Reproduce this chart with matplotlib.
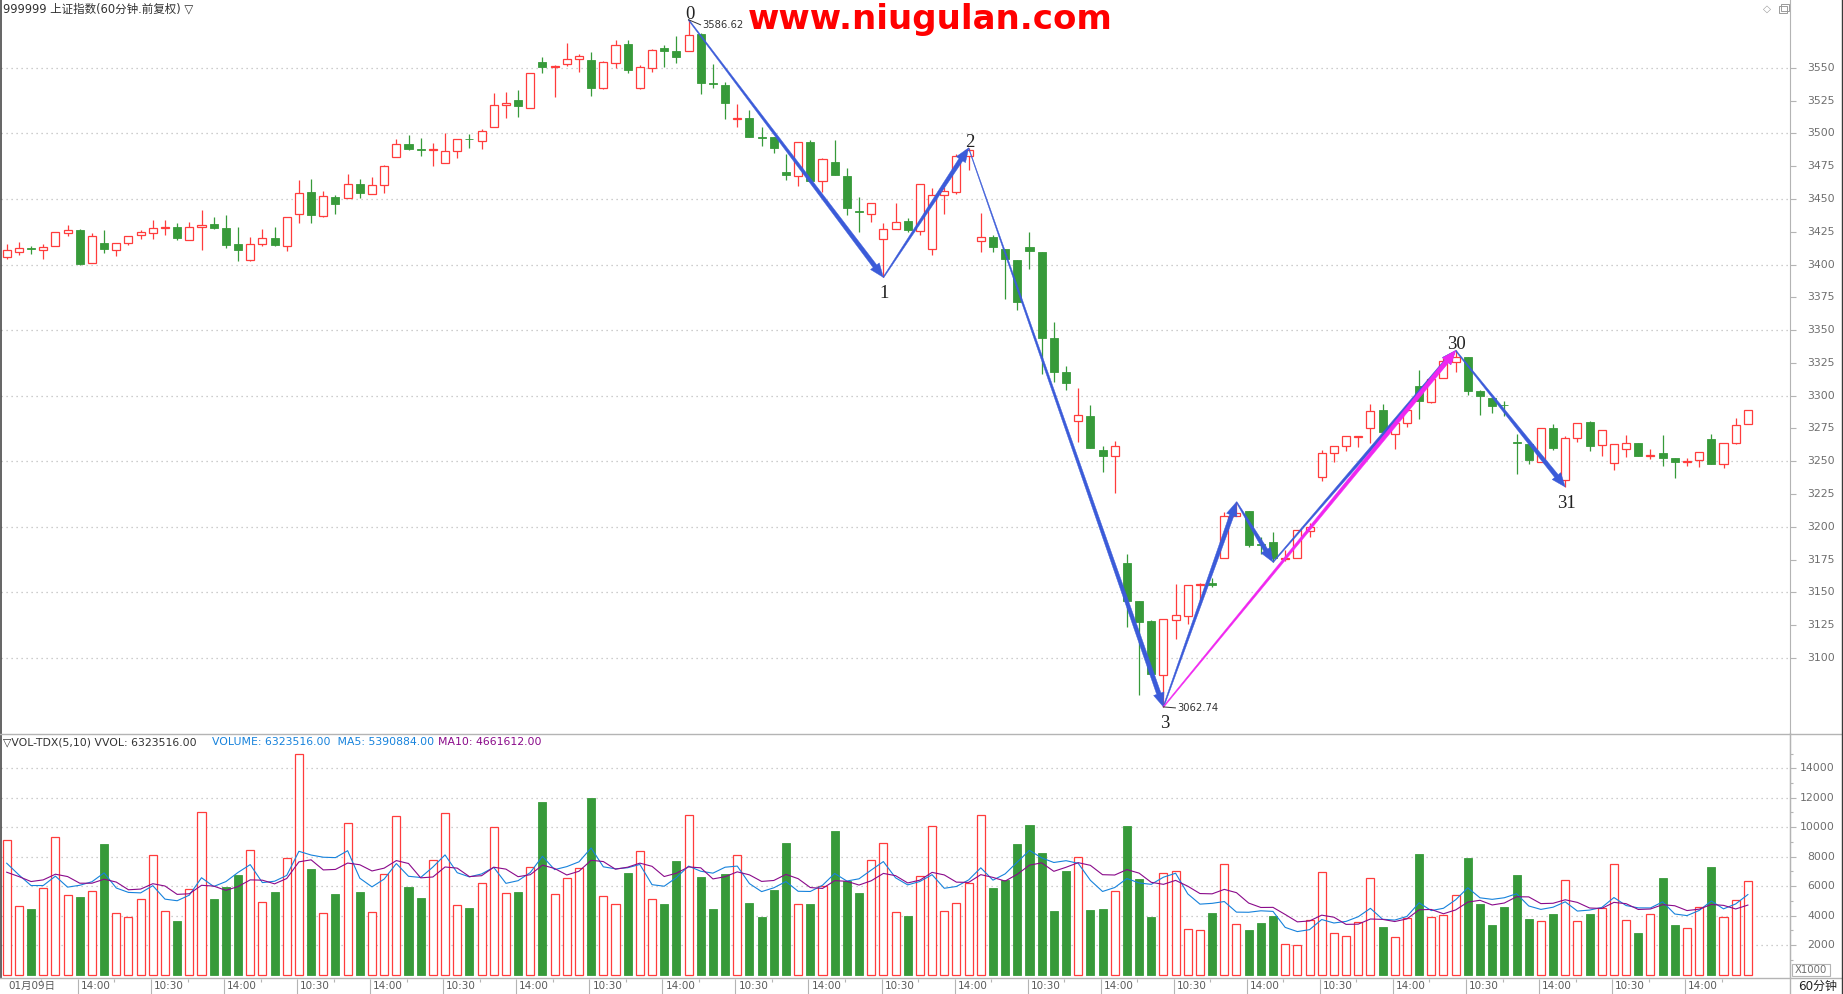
import numpy as np
import pandas as pd
import matplotlib
matplotlib.use('Agg')
import matplotlib.pyplot as plt
from matplotlib.patches import Polygon, Rectangle
from matplotlib.lines import Line2D

plt.rcParams['font.family'] = ['DejaVu Sans', 'Noto Sans CJK SC']

# ---- 60-minute bars of 999999 ----
opens = [3406.1, 3409.8, 3412.6, 3411.4, 3414.4, 3424.2, 3426.0, 3400.8, 3416.2, 3411.4, 3416.7, 3422.7,
         3424.0, 3427.8, 3429.0, 3418.9, 3428.8, 3430.6, 3427.5, 3415.4, 3403.8, 3415.9, 3420.5, 3414.4,
         3438.9, 3455.4, 3437.0, 3451.6, 3450.4, 3461.3, 3453.7, 3460.5, 3481.8, 3491.6, 3488.0, 3487.4,
         3477.2, 3486.3, 3496.0, 3493.9, 3504.6, 3522.0, 3525.3, 3519.7, 3554.2, 3550.8, 3553.2, 3557.0,
         3555.7, 3534.5, 3554.0, 3568.0, 3534.8, 3550.0, 3565.4, 3562.6, 3562.9, 3575.5, 3538.5, 3536.6,
         3511.2, 3511.6, 3497.2, 3497.4, 3470.6, 3467.8, 3493.4, 3463.8, 3478.2, 3467.8, 3440.5, 3438.7,
         3419.3, 3427.4, 3433.4, 3425.5, 3411.7, 3453.2, 3455.2, 3483.1, 3417.9, 3420.9, 3412.1, 3403.6,
         3413.0, 3409.8, 3344.0, 3318.3, 3280.7, 3284.8, 3258.5, 3253.8, 3172.3, 3143.4, 3128.2, 3087.0,
         3128.9, 3132.0, 3155.8, 3156.9, 3176.1, 3208.1, 3212.2, 3186.8, 3188.6, 3175.4, 3176.1, 3196.7,
         3237.7, 3256.0, 3262.0, 3268.2, 3275.6, 3288.8, 3271.1, 3278.9, 3307.6, 3295.4, 3313.5, 3325.9,
         3329.2, 3303.3, 3298.5, 3293.0, 3264.4, 3262.8, 3249.6, 3275.2, 3235.5, 3267.4, 3279.6, 3262.1,
         3248.5, 3259.1, 3263.9, 3254.3, 3256.3, 3252.5, 3249.7, 3250.8, 3266.9, 3247.7, 3263.9, 3278.8]
highs = [3415.4, 3416.9, 3413.9, 3415.4, 3425.0, 3429.8, 3426.8, 3423.7, 3426.0, 3416.7, 3422.0, 3426.3,
         3434.3, 3434.3, 3431.3, 3432.1, 3441.9, 3436.6, 3437.4, 3428.3, 3420.7, 3426.8, 3429.0, 3436.4,
         3464.2, 3465.3, 3456.2, 3453.2, 3469.1, 3465.3, 3466.8, 3475.9, 3495.7, 3498.7, 3496.5, 3492.7,
         3500.0, 3495.4, 3499.5, 3503.3, 3530.6, 3531.4, 3533.4, 3546.3, 3558.0, 3552.0, 3568.6, 3560.3,
         3561.8, 3555.0, 3571.0, 3571.0, 3552.0, 3564.0, 3567.2, 3574.0, 3586.62, 3576.5, 3552.8, 3539.1,
         3522.2, 3517.9, 3505.0, 3497.4, 3484.5, 3493.1, 3494.6, 3481.2, 3495.1, 3473.6, 3451.6, 3447.1,
         3431.4, 3446.6, 3435.5, 3461.7, 3458.5, 3458.8, 3484.5, 3488.9, 3439.5, 3422.6, 3412.1, 3403.6,
         3424.9, 3409.8, 3356.3, 3322.7, 3306.1, 3293.2, 3261.4, 3265.5, 3179.6, 3143.4, 3129.1, 3130.1,
         3156.1, 3155.6, 3156.9, 3161.2, 3211.4, 3219.0, 3212.2, 3192.4, 3195.9, 3182.0, 3197.5, 3202.8,
         3258.4, 3262.0, 3268.9, 3269.1, 3293.4, 3293.9, 3278.9, 3289.1, 3319.3, 3312.9, 3328.4, 3334.5,
         3329.2, 3304.1, 3298.5, 3295.9, 3270.6, 3262.8, 3275.7, 3278.1, 3269.5, 3279.5, 3280.7, 3274.2,
         3263.4, 3269.7, 3263.9, 3259.3, 3270.0, 3252.5, 3252.3, 3256.8, 3270.7, 3263.9, 3282.8, 3289.4]
lows = [3404.5, 3407.6, 3408.1, 3404.5, 3414.4, 3421.7, 3399.7, 3400.8, 3408.8, 3406.6, 3414.9, 3419.4,
        3419.4, 3422.5, 3418.7, 3418.9, 3411.1, 3426.8, 3412.6, 3402.8, 3402.8, 3414.1, 3413.9, 3410.4,
        3431.9, 3431.4, 3435.9, 3438.2, 3450.4, 3450.4, 3453.7, 3454.9, 3481.8, 3487.6, 3483.0, 3475.4,
        3477.2, 3481.5, 3489.1, 3488.4, 3504.6, 3511.9, 3512.7, 3519.7, 3546.1, 3527.8, 3551.4, 3546.8,
        3528.6, 3534.0, 3550.0, 3546.2, 3534.1, 3547.0, 3550.8, 3553.8, 3562.9, 3530.3, 3534.8, 3510.8,
        3505.2, 3497.2, 3490.1, 3485.0, 3464.5, 3459.7, 3463.5, 3455.2, 3468.1, 3437.7, 3424.8, 3432.4,
        3390.2, 3427.4, 3425.1, 3422.6, 3407.4, 3438.5, 3453.9, 3472.3, 3409.5, 3409.8, 3373.5, 3365.1,
        3396.9, 3316.6, 3310.2, 3304.0, 3264.9, 3259.9, 3242.1, 3226.0, 3123.8, 3071.9, 3087.6, 3062.74,
        3114.2, 3125.6, 3141.4, 3153.8, 3176.1, 3208.0, 3185.0, 3179.4, 3173.1, 3173.6, 3176.1, 3191.9,
        3235.2, 3249.7, 3258.1, 3261.2, 3263.7, 3272.3, 3259.6, 3276.4, 3282.5, 3294.7, 3313.5, 3318.3,
        3300.8, 3285.3, 3286.8, 3284.5, 3240.4, 3248.0, 3249.6, 3258.9, 3230.4, 3264.8, 3258.0, 3254.3,
        3243.2, 3253.5, 3254.3, 3251.5, 3246.7, 3237.6, 3246.7, 3246.0, 3248.2, 3244.7, 3263.4, 3278.8]
closes = [3410.9, 3412.4, 3412.2, 3413.6, 3425.0, 3426.0, 3400.5, 3422.0, 3411.9, 3416.7, 3422.0, 3425.0,
          3428.0, 3429.0, 3420.2, 3428.8, 3430.3, 3427.8, 3414.9, 3411.1, 3415.9, 3420.5, 3414.6, 3436.4,
          3454.8, 3437.5, 3452.2, 3445.8, 3461.3, 3454.2, 3460.5, 3474.9, 3491.6, 3488.4, 3487.4, 3488.2,
          3486.3, 3495.4, 3495.4, 3501.5, 3522.0, 3523.5, 3521.0, 3546.3, 3550.6, 3551.6, 3557.0, 3559.2,
          3534.7, 3554.3, 3567.7, 3548.5, 3550.3, 3563.9, 3562.6, 3558.3, 3575.3, 3538.6, 3538.0, 3523.5,
          3511.8, 3497.2, 3496.7, 3488.6, 3468.1, 3493.1, 3463.5, 3480.5, 3468.1, 3443.3, 3440.0, 3447.1,
          3427.4, 3432.7, 3426.4, 3461.7, 3453.2, 3456.2, 3483.1, 3487.4, 3420.9, 3413.3, 3403.9, 3371.2,
          3410.0, 3343.7, 3317.8, 3309.6, 3285.3, 3259.9, 3254.4, 3261.4, 3143.1, 3127.6, 3087.6, 3130.1,
          3132.5, 3155.6, 3156.8, 3155.6, 3208.1, 3210.9, 3186.5, 3186.3, 3176.1, 3176.0, 3197.5, 3200.0,
          3256.0, 3262.0, 3268.9, 3269.0, 3288.6, 3272.3, 3278.9, 3289.1, 3296.2, 3312.9, 3326.6, 3329.7,
          3303.8, 3299.7, 3292.1, 3292.6, 3264.0, 3251.1, 3275.7, 3260.2, 3267.4, 3279.5, 3261.8, 3274.2,
          3263.4, 3263.6, 3254.3, 3254.8, 3252.8, 3249.7, 3250.5, 3256.8, 3248.2, 3263.9, 3278.0, 3289.4]
# volume in units of 1000
volumes = [9116, 4637, 4456, 5859, 9319, 5384, 5270, 5655, 8867, 4185, 3891, 5112,
           8098, 4298, 3642, 5791, 11016, 5135, 5949, 6763, 8437, 4909, 5610, 7917,
           14950, 7171, 4162, 5474, 10269, 5610, 4230, 6809, 10745, 5949, 5203, 7759,
           10948, 4705, 4524, 6198, 9998, 5519, 5610, 7284, 11717, 5474, 6537, 7238,
           11989, 5316, 4795, 6899, 8369, 5112, 4795, 7713, 10812, 6628, 4456, 6809,
           8098, 4863, 3913, 5745, 8935, 4795, 4795, 6017, 9749, 6379, 5542, 7759,
           8912, 4230, 3981, 6696, 10066, 4298, 4841, 6198, 10812, 5881, 6424, 8867,
           10156, 8256, 4320, 7035, 7985, 4388, 4456, 5655, 10089, 6492, 3913, 6876,
           7012, 3076, 3008, 4185, 7487, 3416, 3031, 3506, 3981, 2058, 1991, 3687,
           6944, 2805, 2601, 3574, 6537, 3235, 2533, 3845, 8188, 3891, 4026, 5406,
           7917, 4795, 3370, 4569, 6763, 3777, 3619, 4117, 6401, 3619, 4117, 4501,
           7487, 3687, 2827, 4094, 6560, 3370, 3144, 4569, 7306, 3891, 5044, 6323.516]
# moving averages of the first bars (need data from before the window)
ma5_head = [7555, 6763, 6040, 6040]
ma10_head = [6944, 6650, 6311, 6424, 6809, 6650, 6198, 6198, 6469]

time_labels = ['01月09日', '14:00', '10:30']
zig_bars = [56, 72, 79, 95, 101, 104, 119, 128]
zig_top = [True, False, True, False, True, False, True, False]
zig_names = {56: '0', 72: '1', 79: '2', 95: '3', 119: '30', 128: '31'}
pink_leg = (95, 119)

RED = '#ff3c3c'
GREEN = '#379a3a'
BLUE = '#3b5bd9'
PINK = '#f026f0'
GRID = '#bdbdbd'
TXT = '#6e6e6e'

W, H = 1843, 994
fig = plt.figure(figsize=(W / 100, H / 100), dpi=100)
fig.patch.set_facecolor('white')

def fx(px):
    return px / W

def fy(py):
    return 1 - py / H

LEFT, RIGHT = 1, 1790
STEP, FIRST = 12.176, 6.7
xlim = ((LEFT - FIRST) / STEP, (RIGHT - FIRST) / STEP)

axp = fig.add_axes([fx(LEFT), fy(733), fx(RIGHT - LEFT), 733 / H])
axv = fig.add_axes([fx(LEFT), fy(977.7), fx(RIGHT - LEFT), (977.7 - 734) / H])
axt = fig.add_axes([fx(LEFT), 0, fx(RIGHT - LEFT), (H - 978.5) / H])

o, hi, lo, c = (np.array(a, dtype=float) for a in (opens, highs, lows, closes))
vol = np.array(volumes, dtype=float)
idx = np.arange(len(o))
up = c >= o
bw = 0.66

for ax in (axp, axv, axt):
    ax.set_xlim(*xlim)
    ax.set_facecolor('white')
    for s in ax.spines.values():
        s.set_visible(False)
    ax.set_xticks([])
    ax.set_yticks([])

axp.set_ylim(3042.84, 3601.69)
axv.set_ylim(-217, 16328)
axt.set_ylim(0, 1)

# grid
for v in range(3100, 3551, 50):
    axp.axhline(v, color=GRID, lw=0.9, ls=(0, (1, 3)), zorder=0)
for v in range(2000, 14001, 2000):
    axv.axhline(v, color=GRID, lw=0.9, ls=(0, (1, 3)), zorder=0)

# candles
bot = np.minimum(o, c)
top = np.maximum(o, c)
axp.vlines(idx[~up], lo[~up], hi[~up], color=GREEN, lw=0.9, zorder=2)
axp.vlines(idx[up], top[up], hi[up], color=RED, lw=0.9, zorder=2)
axp.vlines(idx[up], lo[up], bot[up], color=RED, lw=0.9, zorder=2)
body = np.maximum(top - bot, 0.5)
axp.bar(idx[up], body[up], bottom=bot[up], width=bw, facecolor='white',
        edgecolor=RED, lw=0.9, zorder=3)
axp.bar(idx[~up], body[~up], bottom=bot[~up], width=bw, facecolor=GREEN,
        edgecolor=GREEN, lw=0.6, zorder=3)

# volume
axv.bar(idx[up], vol[up], width=bw, facecolor='white', edgecolor=RED, lw=0.9, zorder=2)
axv.bar(idx[~up], vol[~up], width=bw, facecolor=GREEN, edgecolor=GREEN, lw=0.6, zorder=2)
ma5 = pd.Series(vol).rolling(5).mean().to_numpy()
ma10 = pd.Series(vol).rolling(10).mean().to_numpy()
ma5[:len(ma5_head)] = ma5_head
ma10[:len(ma10_head)] = ma10_head
axv.plot(idx, ma5, color='#1682dc', lw=0.8, zorder=4)
axv.plot(idx, ma10, color='#8a0a8a', lw=0.8, zorder=4)

# zigzag arrows
def arrow(p0, p1, color, w0=1.0, w1=4.5, hw=11.0, hl=14.0):
    a = axp.transData.transform(p0)
    b = axp.transData.transform(p1)
    d = b - a
    u = d / np.hypot(*d)
    n = np.array([-u[1], u[0]])
    s = b - u * hl
    pts = np.array([a + n * w0 / 2, s + n * w1 / 2, s + n * hw / 2, b,
                    s - n * hw / 2, s - n * w1 / 2, a - n * w0 / 2])
    axp.add_patch(Polygon(axp.transData.inverted().transform(pts), closed=True,
                          fc=color, ec=color, lw=0.3, zorder=6))

zpts = {k: (k, hi[k] if t else lo[k]) for k, t in zip(zig_bars, zig_top)}
for k0, k1 in zip(zig_bars[:-1], zig_bars[1:]):
    arrow(zpts[k0], zpts[k1], BLUE, w0=0.6 if k0 == 79 else 1.0)
arrow(zpts[pink_leg[0]], zpts[pink_leg[1]], PINK)

for k, t in zip(zig_bars, zig_top):
    if k not in zig_names:
        continue
    axp.annotate(zig_names[k], zpts[k], xytext=(1, -3 if t else -8),
                 textcoords='offset pixels', ha='center', va='bottom' if t else 'top',
                 family='Liberation Serif', fontsize=13.5, color='#222222', zorder=7)

# extreme price notes
for k, t in ((56, True), (95, False)):
    px, py = axp.transData.transform(zpts[k])
    dy = 5 if t else 1
    axp.plot(*axp.transData.inverted().transform([[px, py], [px + 12, py - dy]]).T,
             color='#333333', lw=0.7, zorder=7)
    axp.annotate(f'{zpts[k][1]:.2f}', zpts[k], xytext=(14, -dy),
                 textcoords='offset pixels', ha='left', va='center',
                 fontsize=7.2, color='#333333', zorder=7)

# price axis (right)
axp.spines['right'].set_visible(True)
axp.spines['right'].set_color('#b4b4b4')
axp.set_yticks(range(3100, 3551, 25))
axp.tick_params(axis='y', left=False, right=True, labelleft=False, labelright=False,
                length=4.3, width=0.8, color='#b4b4b4', direction='out')
xa = (1835 - LEFT) / (RIGHT - LEFT)
for v in range(3100, 3551, 25):
    axp.text(xa, v, str(v), transform=axp.get_yaxis_transform(), ha='right',
             va='center', fontsize=7.8, color=TXT, clip_on=False)

# volume axis (right)
axv.spines['right'].set_visible(True)
axv.spines['right'].set_color('#b4b4b4')
axv.set_yticks(range(2000, 14001, 2000))
axv.set_yticks(range(1000, 15001, 2000), minor=True)
axv.tick_params(axis='y', which='both', left=False, right=True, labelleft=False,
                labelright=False, width=0.8, color='#b4b4b4', direction='out')
axv.tick_params(axis='y', which='major', length=4.3)
axv.tick_params(axis='y', which='minor', length=2.2)
for v in range(2000, 14001, 2000):
    axv.text(xa, v, str(v), transform=axv.get_yaxis_transform(), ha='right',
             va='center', fontsize=7.8, color=TXT, clip_on=False)

# time axis
for k in range(0, len(idx), 6):
    j = k // 6
    if j > 0:
        axt.vlines(k - 0.15, 0, 1, color='#b4b4b4', lw=0.8)
    lab = time_labels[0] if j == 0 else time_labels[1 + (j + 1) % 2]
    axt.text(k + 0.1, 0.5, lab, ha='left', va='center', fontsize=7.5, color='#5a5a5a')
for k in range(3, len(idx), 6):
    axt.vlines(k - 0.15, 0.75, 1, color='#b4b4b4', lw=0.8)

# frame lines
fig.add_artist(Line2D([fx(0.6), fx(0.6)], [fy(0), fy(978)], color='#3a3a3a', lw=1.1))
fig.add_artist(Line2D([0, 1], [fy(733.5), fy(733.5)], color='#b4b4b4', lw=1.0))
fig.add_artist(Line2D([0, 1], [fy(978), fy(978)], color='#b4b4b4', lw=1.0))
fig.add_artist(Line2D([fx(1790), fx(1790)], [fy(733), 0], color='#b4b4b4', lw=1.0))
fig.add_artist(Line2D([fx(1842), fx(1842)], [0, 1], color='#3a3a3a', lw=1.0))

# texts
fig.text(fx(3), fy(9), '999999 上证指数(60分钟.前复权) ▽', ha='left', va='center',
         fontsize=8.3, color='#303030')
fig.text(fx(930), fy(19), 'www.niugulan.com', ha='center', va='center', fontsize=24.5,
         fontweight='bold', color='#ff0000')
fig.text(fx(1767), fy(9), '◇', ha='center', va='center', fontsize=7.5, color='#9a9a9a')
fig.add_artist(Rectangle((fx(1779), fy(13)), fx(8), 7 / H, fill=False, ec='#9a9a9a', lw=0.7))
fig.add_artist(Rectangle((fx(1781), fy(11)), fx(8), 7 / H, fill=False, ec='#9a9a9a', lw=0.7))

fig.text(fx(3), fy(742), '▽VOL-TDX(5,10) VVOL: 6323516.00', ha='left', va='center',
         fontsize=7.8, color='#333333')
fig.text(fx(212), fy(742), 'VOLUME: 6323516.00  MA5: 5390884.00', ha='left', va='center',
         fontsize=7.8, color='#1682dc')
fig.text(fx(438), fy(742), 'MA10: 4661612.00', ha='left', va='center',
         fontsize=7.8, color='#8a0a8a')

fig.add_artist(Rectangle((fx(1792), fy(976.3)), fx(38), 12.7 / H, fill=False,
                         ec='#b4b4b4', lw=0.8))
fig.text(fx(1811), fy(970), 'X1000', ha='center', va='center', fontsize=7.3, color=TXT)
fig.text(fx(1798), fy(986.5), '60分钟', ha='left', va='center', fontsize=8.6, color='#202020')

fig.savefig('out.png', dpi=100, facecolor='white')
